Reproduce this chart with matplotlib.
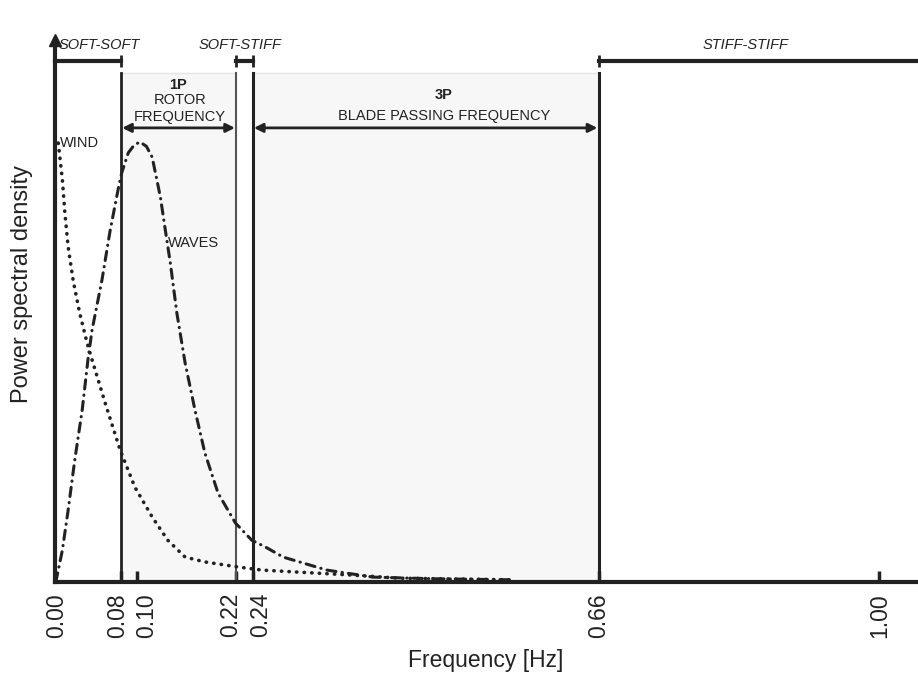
import matplotlib
matplotlib.use("Agg")
import matplotlib.pyplot as plt
from matplotlib.transforms import ScaledTranslation

plt.rcParams['font.family'] = ['Liberation Sans', 'DejaVu Sans']

# values (frequency in Hz, relative PSD)
wind_f = [0.004, 0.009, 0.012, 0.016, 0.022, 0.030, 0.039, 0.045, 0.061, 0.079,
          0.097, 0.118, 0.137, 0.158, 0.182, 0.221, 0.251, 0.298, 0.358, 0.419, 0.556]
wind_p = [0.810, 0.742, 0.681, 0.618, 0.557, 0.496, 0.441, 0.410, 0.330, 0.244,
          0.175, 0.120, 0.077, 0.046, 0.037, 0.028, 0.022, 0.018, 0.013, 0.007, 0.004]

wave_f = [0.001, 0.009, 0.016, 0.024, 0.033, 0.040, 0.045, 0.057, 0.067, 0.077,
          0.081, 0.089, 0.096, 0.103, 0.111, 0.118, 0.128, 0.134, 0.140, 0.148,
          0.158, 0.170, 0.182, 0.198, 0.219, 0.239, 0.255, 0.277, 0.330, 0.386,
          0.459, 0.556]
wave_p = [0.000, 0.059, 0.133, 0.225, 0.317, 0.410, 0.465, 0.557, 0.649, 0.727,
          0.755, 0.792, 0.806, 0.812, 0.804, 0.784, 0.710, 0.649, 0.589, 0.496,
          0.404, 0.317, 0.238, 0.164, 0.109, 0.077, 0.065, 0.046, 0.022, 0.009,
          0.006, 0.004]

tick_pos = [0.00, 0.08, 0.10, 0.22, 0.24, 0.66, 1.00]
tick_lab = ["0.00", "0.08", "0.10", "0.22", "0.24", "0.66", "1.00"]

rotor_band = (0.08, 0.22)
blade_band = (0.24, 0.66)

dark = "#222222"

fig = plt.figure(figsize=(9.18, 6.74), dpi=100)
ax = fig.add_axes([0.0599, 0.1365, 0.9401, 0.804])
ax.set_xlim(0, 1.0478)
ax.set_ylim(0, 1)

# shaded frequency bands
for lo, hi in [rotor_band, blade_band]:
    ax.axvspan(lo, hi, ymax=0.939, color="#f7f7f7", zorder=0)
    ax.plot([lo, hi], [0.939, 0.939], color="#e6e6e6", lw=1, zorder=0)

# band limit lines
ax.plot([0.08, 0.08], [0, 0.939], color=dark, lw=2)
ax.plot([0.22, 0.22], [0, 0.939], color="#555555", lw=1.5)
ax.plot([0.24, 0.24], [0, 0.939], color=dark, lw=2.2)
ax.plot([0.66, 0.66], [0, 0.939], color=dark, lw=2.2)

# spectra
ax.plot(wind_f, wind_p, color=dark, lw=2.6, linestyle=(0, (0.1, 2)),
        dash_capstyle="round")
ax.plot(wave_f, wave_p, color=dark, lw=2.2, linestyle=(0, (3, 2, 0.1, 2)),
        dash_capstyle="round")

# design regions above the plot
ax.plot([0, 0.08], [0.961, 0.961], color=dark, lw=3, clip_on=False)
ax.plot([0.08], [0.961], marker="|", ms=9, mew=2, color=dark, clip_on=False)
ax.plot([0.22, 0.24], [0.961, 0.961], color=dark, lw=3, clip_on=False)
ax.plot([0.22, 0.24], [0.961, 0.961], ls="none", marker="|", ms=9, mew=2,
        color=dark, clip_on=False)
ax.plot([0.66, 1.0478], [0.961, 0.961], color=dark, lw=3, clip_on=False)
ax.plot([0.66], [0.961], marker="|", ms=9, mew=2, color=dark, clip_on=False)

ax.text(0.0534, 0.991, "SOFT-SOFT", style="italic", fontsize=10.5, color=dark,
        ha="center", va="center")
ax.text(0.2252, 0.991, "SOFT-STIFF", style="italic", fontsize=10.5, color=dark,
        ha="center", va="center")
ax.text(0.8378, 0.991, "STIFF-STIFF", style="italic", fontsize=10.5, color=dark,
        ha="center", va="center")

# band arrows and labels
arr = dict(arrowstyle="<|-|>", color=dark, lw=2, mutation_scale=13,
           shrinkA=0, shrinkB=0)
ax.annotate("", xy=(0.0815, 0.838), xytext=(0.2185, 0.838), arrowprops=arr)
ax.annotate("", xy=(0.2415, 0.838), xytext=(0.6585, 0.838), arrowprops=arr)

ax.text(0.149, 0.917, "1P", fontsize=10.5, fontweight="bold", color=dark,
        ha="center", va="center")
ax.text(0.152, 0.889, "ROTOR", fontsize=10.5, color=dark, ha="center", va="center")
ax.text(0.152, 0.858, "FREQUENCY", fontsize=10.5, color=dark, ha="center", va="center")
ax.text(0.4723, 0.899, "3P", fontsize=10.5, fontweight="bold", color=dark,
        ha="center", va="center")
ax.text(0.4723, 0.860, "BLADE PASSING FREQUENCY", fontsize=10.5, color=dark,
        ha="center", va="center")

ax.text(0.006, 0.810, "WIND", fontsize=10.5, color=dark, ha="left", va="center")
ax.text(0.137, 0.625, "WAVES", fontsize=10.5, color=dark, ha="left", va="center")

# axes styling
for s in ["top", "right"]:
    ax.spines[s].set_visible(False)
for s in ["left", "bottom"]:
    ax.spines[s].set_linewidth(3)
    ax.spines[s].set_color(dark)
ax.plot([0], [1.0], marker="^", ms=9, color=dark, clip_on=False,
        transform=ax.get_yaxis_transform())

ax.set_yticks([])
ax.set_xticks(tick_pos)
ax.set_xticklabels(tick_lab, rotation=90, fontsize=16.5, color=dark)
ax.tick_params(axis="x", direction="in", length=8, width=2.5, color=dark, pad=8)
# nudge crowded labels apart like the original
for lab, dx in zip(ax.get_xticklabels(), [2, -3, 9, -6, 8, 0, 1]):
    lab.set_transform(lab.get_transform() + ScaledTranslation(dx / 100, 0, fig.dpi_scale_trans))

fig.text(486 / 918, 1 - 660 / 674, "Frequency [Hz]", fontsize=16.5, color=dark,
         ha="center", va="center")
fig.text(22 / 918, 1 - 284 / 674, "Power spectral density", fontsize=17,
         color=dark, rotation=90, ha="center", va="center")

fig.savefig("out.png", dpi=100)
